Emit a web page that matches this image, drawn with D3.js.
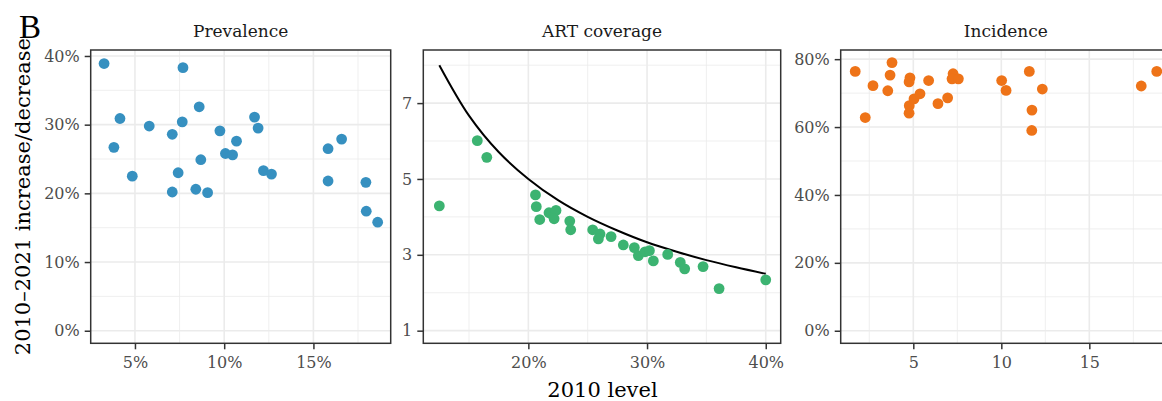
<!DOCTYPE html>
<html>
<head>
<meta charset="utf-8">
<script src="https://cdn.jsdelivr.net/npm/d3@7"></script>
<style>
body{margin:0;background:#fff}
svg{display:block}
</style>
</head>
<body>
<svg></svg>
<script>
var size = {width:1162,height:401}

// Prevalence: 2010 level (%) vs 2010-2021 change (%)
var prevX = [3.27,7.69,8.6,4.16,5.8,7.65,7.09,9.76,11.7,11.9,10.69,3.82,10.07,10.47,8.69,4.85,7.42,12.2,12.65,15.82,16.58,15.82,17.94,7.09,8.41,9.07,17.96,18.6]
var prevY = [38.9,38.3,32.6,30.9,29.8,30.4,28.6,29.1,31.1,29.5,27.6,26.7,25.8,25.6,24.9,22.5,23.0,23.3,22.8,26.5,27.9,21.8,21.6,20.2,20.6,20.1,17.4,15.8]

// ART coverage: 2010 level (%) vs fold increase
var artX = [12.5,15.7,16.5,20.6,20.67,20.96,21.74,21.97,22.33,22.17,23.49,23.57,25.42,26.04,25.9,26.97,28.0,28.93,29.27,29.83,30.2,30.53,31.74,32.8,33.17,34.72,36.07,40.0]
var artY = [4.29,6.01,5.57,4.58,4.27,3.93,4.11,4.07,4.17,3.95,3.89,3.66,3.66,3.55,3.42,3.48,3.26,3.19,2.98,3.08,3.11,2.84,3.01,2.80,2.63,2.69,2.11,2.34]
// reference curve
var curveX = [12.5,15,17.5,20,22.5,25,27.5,30,32.5,35,37.5,40]
var curveY = [8.0,6.67,5.71,5.0,4.44,4.0,3.64,3.33,3.08,2.86,2.67,2.5]

// Incidence: 2010 level vs decrease (%)
var incX = [1.70,2.27,2.71,3.79,3.68,3.55,4.81,4.76,4.77,4.76,5.04,5.38,5.87,6.40,6.95,7.26,7.20,7.56,10.02,10.27,11.59,12.33,11.74,11.73,17.95,18.83]
var incY = [76.4,62.8,72.2,79.0,75.3,70.7,74.5,73.3,66.3,64.1,68.3,69.8,73.7,66.9,68.6,75.7,74.2,74.2,73.7,70.8,76.4,71.2,65.0,59.0,72.1,76.4]

var panelTop = 50, panelBottom = 343.3
var serif = "DejaVu Serif"

var panels = [
    {title:"Prevalence", x0:90.7, x1:390.7, xDomain:[2.52,19.33], yDomain:[-1.83,40.87],
     xTicks:[5,10,15], xMinor:[7.5,12.5,17.5], yTicks:[0,10,20,30,40], yMinor:[5,15,25,35],
     xFmt:function(d){return d+"%"}, yFmt:function(d){return d+"%"},
     xs:prevX, ys:prevY, color:"#3690c0"},
    {title:"ART coverage", x0:423.3, x1:780.7, xDomain:[11.15,41.26], yDomain:[0.667,8.40],
     xTicks:[20,30,40], xMinor:[15,25,35], yTicks:[1,3,5,7], yMinor:[2,4,6,8],
     xFmt:function(d){return d+"%"}, yFmt:function(d){return d},
     xs:artX, ys:artY, color:"#3cb371", curve:true},
    {title:"Incidence", x0:840.7, x1:1171, xDomain:[0.875,19.64], yDomain:[-3.7,82.7],
     xTicks:[5,10,15], xMinor:[2.5,7.5,12.5,17.5], yTicks:[0,20,40,60,80], yMinor:[10,30,50,70],
     xFmt:function(d){return d}, yFmt:function(d){return d+"%"},
     xs:incX, ys:incY, color:"#ee7318"}
]

var svg = d3.select("svg")
    .attr("width",size.width)
    .attr("height",size.height)

var drawPanel = function(p)
{
    var xScale = d3.scaleLinear().domain(p.xDomain).range([p.x0,p.x1])
    var yScale = d3.scaleLinear().domain(p.yDomain).range([panelBottom,panelTop])
    var g = svg.append("g")

    //minor grid
    g.selectAll(".vminor").data(p.xMinor).enter().append("line")
        .attr("x1",function(d){return xScale(d)}).attr("x2",function(d){return xScale(d)})
        .attr("y1",panelTop).attr("y2",panelBottom)
        .attr("stroke","#ebebeb").attr("stroke-width",0.8)
    g.selectAll(".hminor").data(p.yMinor).enter().append("line")
        .attr("y1",function(d){return yScale(d)}).attr("y2",function(d){return yScale(d)})
        .attr("x1",p.x0).attr("x2",p.x1)
        .attr("stroke","#ebebeb").attr("stroke-width",0.8)
    //major grid
    g.selectAll(".vmajor").data(p.xTicks).enter().append("line")
        .attr("x1",function(d){return xScale(d)}).attr("x2",function(d){return xScale(d)})
        .attr("y1",panelTop).attr("y2",panelBottom)
        .attr("stroke","#ebebeb").attr("stroke-width",1.6)
    g.selectAll(".hmajor").data(p.yTicks).enter().append("line")
        .attr("y1",function(d){return yScale(d)}).attr("y2",function(d){return yScale(d)})
        .attr("x1",p.x0).attr("x2",p.x1)
        .attr("stroke","#ebebeb").attr("stroke-width",1.6)

    if(p.curve)
    {
        var line = d3.line()
            .x(function(d,i){return xScale(curveX[i])})
            .y(function(d,i){return yScale(curveY[i])})
            .curve(d3.curveCatmullRom)
        g.append("path")
            .datum(curveX)
            .attr("d",line)
            .attr("fill","none")
            .attr("stroke","#000")
            .attr("stroke-width",2)
    }

    g.selectAll("circle")
        .data(p.xs)
        .enter()
        .append("circle")
        .attr("cx",function(d){return xScale(d)})
        .attr("cy",function(d,i){return yScale(p.ys[i])})
        .attr("r",5.4)
        .attr("fill",p.color)

    //panel border
    g.append("rect")
        .attr("x",p.x0).attr("y",panelTop)
        .attr("width",p.x1-p.x0).attr("height",panelBottom-panelTop)
        .attr("fill","none").attr("stroke","#333333").attr("stroke-width",1.5)

    var xAxis = d3.axisBottom(xScale).tickValues(p.xTicks).tickFormat(p.xFmt)
        .tickSize(6).tickPadding(7.5).tickSizeOuter(0)
    var yAxis = d3.axisLeft(yScale).tickValues(p.yTicks).tickFormat(p.yFmt)
        .tickSize(6).tickPadding(5).tickSizeOuter(0)
    var gx = g.append("g").attr("transform","translate(0,"+panelBottom+")").call(xAxis)
    var gy = g.append("g").attr("transform","translate("+p.x0+",0)").call(yAxis)
    g.selectAll(".domain").remove()
    g.selectAll(".tick line").attr("stroke","#333333").attr("stroke-width",1.5)
    g.selectAll(".tick text")
        .attr("font-family",serif).attr("font-size",16).attr("fill","#4d4d4d")

    //strip title
    g.append("text")
        .attr("x",(p.x0+p.x1)/2).attr("y",36.7)
        .attr("text-anchor","middle")
        .attr("font-family",serif).attr("font-size",17).attr("fill","#1a1a1a")
        .text(p.title)
}

panels.forEach(drawPanel)

//axis titles
svg.append("text")
    .attr("x",602.5).attr("y",397)
    .attr("text-anchor","middle")
    .attr("font-family",serif).attr("font-size",21).attr("fill","#000")
    .text("2010 level")
svg.append("text")
    .attr("transform","translate(30,"+((panelTop+panelBottom)/2)+") rotate(-90)")
    .attr("text-anchor","middle")
    .attr("font-family",serif).attr("font-size",21).attr("fill","#000")
    .text("2010\u20132021 increase/decrease")

//tag
svg.append("text")
    .attr("x",19).attr("y",38)
    .attr("font-family","Liberation Serif").attr("font-size",33).attr("fill","#000")
    .text("B")
</script>
</body>
</html>
